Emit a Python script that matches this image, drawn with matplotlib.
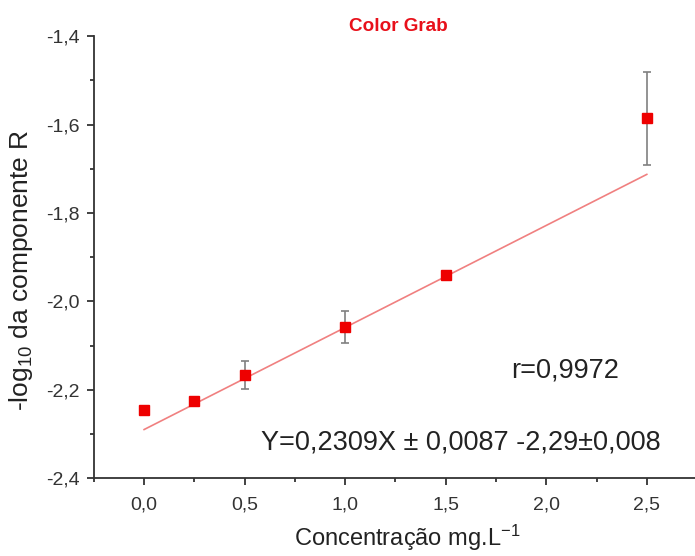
import matplotlib
matplotlib.use("Agg")
import matplotlib.pyplot as plt
from matplotlib.ticker import MultipleLocator, FuncFormatter
import numpy as np

plt.rcParams['font.family'] = ['Liberation Sans', 'DejaVu Sans']
plt.rcParams['mathtext.fontset'] = 'custom'
plt.rcParams['mathtext.rm'] = 'Liberation Sans'
plt.rcParams['mathtext.it'] = 'Liberation Sans:italic'
plt.rcParams['mathtext.bf'] = 'Liberation Sans:bold'

conc = [0.0, 0.25, 0.5, 1.0, 1.5, 2.5]
values = [-2.246, -2.226, -2.167, -2.058, -1.941, -1.586]
errors = [0.004, 0.006, 0.031, 0.037, 0.008, 0.105]
slope = 0.2309
intercept = -2.29
fit_x = [0.0, 2.5]

fig = plt.figure(figsize=(6.95, 5.56), dpi=100)
ax = fig.add_axes([0.135, 0.140, 0.868, 0.795])

ax.errorbar(conc, values, yerr=errors, fmt='none', ecolor='#808080',
            elinewidth=1.2, capsize=3, capthick=1.2, zorder=2)
fx = np.array(fit_x)
ax.plot(fx, slope * fx + intercept, color='#f08080', lw=1.2, zorder=1)
ax.plot(conc, values, 's', color='#ee0000', markersize=7, zorder=3)

ax.set_xlim(-0.25, 2.75)
ax.set_ylim(-2.4, -1.4)
ax.xaxis.set_major_locator(MultipleLocator(0.5))
ax.xaxis.set_minor_locator(MultipleLocator(0.25))
ax.yaxis.set_major_locator(MultipleLocator(0.2))
ax.yaxis.set_minor_locator(MultipleLocator(0.1))
fmt = FuncFormatter(lambda v, p: f"{v:.1f}".replace('.', ',').replace('-0,0', '0,0'))
ax.xaxis.set_major_formatter(fmt)
ax.yaxis.set_major_formatter(fmt)
for s in ['top', 'right']:
    ax.spines[s].set_visible(False)
for s in ['left', 'bottom']:
    ax.spines[s].set_linewidth(1.3)
    ax.spines[s].set_color('#333333')
ax.tick_params(which='major', direction='out', length=5, width=1.3, labelsize=14, colors='#333333', pad=5)
ax.tick_params(which='minor', direction='out', length=3, width=1.3, colors='#333333')
ax.tick_params(axis='x', pad=8)

ax.set_xlabel('Concentração mg.L$^{\\mathrm{-1}}$', fontsize=17, color='#222222')
ax.set_ylabel('-log$_{\\mathrm{10}}$ da componente R', fontsize=19, color='#222222')
ax.xaxis.set_label_coords(0.52, -0.1)
ax.yaxis.set_label_coords(-0.098, 0.47)

fig.text(0.573, 0.953, 'Color Grab', color='#e8101a', fontsize=13.6, fontweight='bold', ha='center', va='center')
ax.text(2.095, -2.156, 'r=0,9972', fontsize=19.5, color='#222222', ha='center', va='center')
ax.text(1.577, -2.319, 'Y=0,2309X ± 0,0087 -2,29±0,008', fontsize=19.5, color='#222222', ha='center', va='center')

fig.savefig('out.png', dpi=100)
